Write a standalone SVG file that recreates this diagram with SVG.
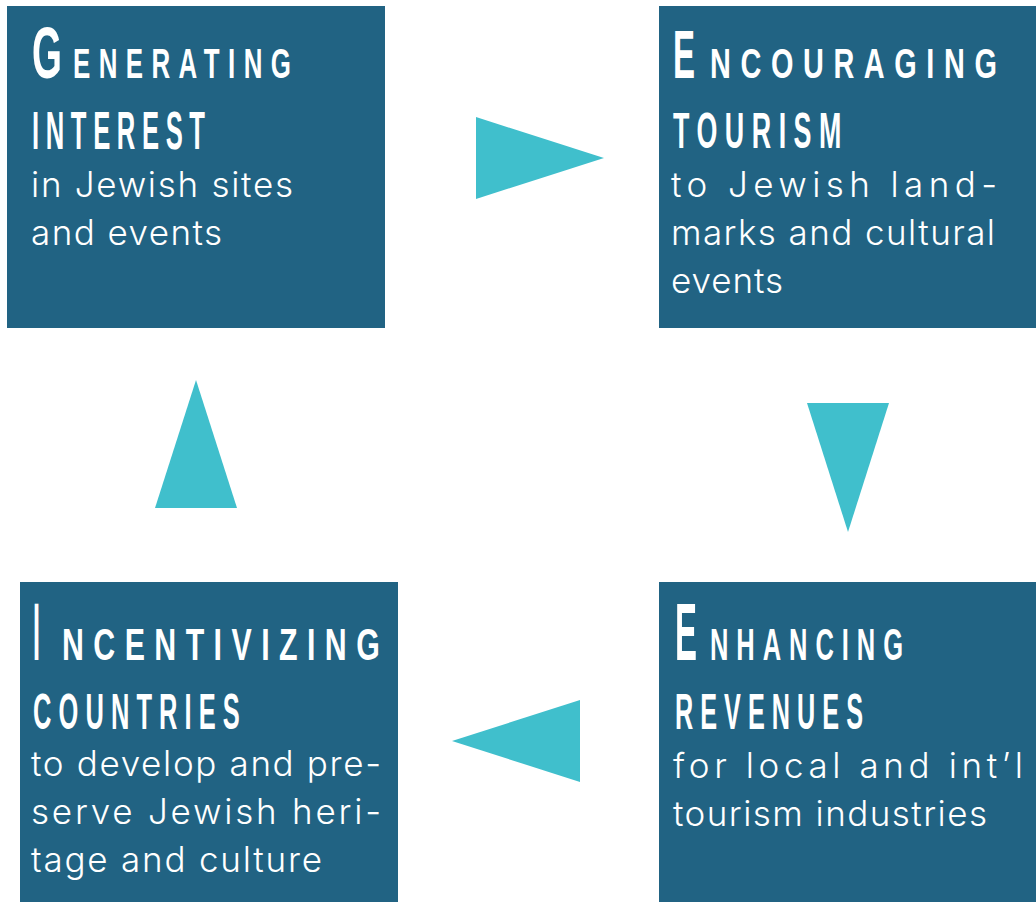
<svg xmlns="http://www.w3.org/2000/svg" width="1036" height="902" viewBox="0 0 1036 902">
<style>
.box{fill:#216383}
.tri{fill:#40bfcc}
.cap{font-family:"Liberation Sans",Arial,sans-serif;font-weight:bold;fill:#fff}
.sp{letter-spacing:14px}
.body{font-family:Inter,"Noto Sans","Liberation Sans",sans-serif;font-weight:300;font-size:35px;fill:#fff}
</style>
<rect width="1036" height="902" fill="#fff"/>
<g id="connectors">
<polygon class="tri" points="476,117 604,158 476,199"/>
<polygon class="tri" points="807,403 889,403 848,532"/>
<polygon class="tri" points="580,700 580,782 452,741"/>
<polygon class="tri" points="155,508 237,508 196,380"/>
</g>
<g id="node-generating">
<rect class="box" x="7" y="6" width="378" height="322"/>
<text class="cap" transform="translate(32,78) scale(0.528,1)" font-size="73">G</text>
<text class="cap sp" transform="translate(73,78) scale(0.602,1)" font-size="43">ENERATING</text>
<text class="cap sp" transform="translate(32,149) scale(0.474,1)" font-size="54">INTEREST</text>
<text class="body" x="31" y="197" textLength="262" lengthAdjust="spacing">in Jewish sites</text>
<text class="body" x="31" y="245" textLength="191" lengthAdjust="spacing">and events</text>
</g>
<g id="node-encouraging">
<rect class="box" x="659" y="6" width="377" height="322"/>
<text class="cap" transform="translate(673,78) scale(0.485,1)" font-size="68">E</text>
<text class="cap sp" transform="translate(710,78) scale(0.687,1)" font-size="42">NCOURAGING</text>
<text class="cap sp" transform="translate(673,148) scale(0.537,1)" font-size="50">TOURISM</text>
<text class="body" x="671" y="197" textLength="326" lengthAdjust="spacing">to Jewish land-</text>
<text class="body" x="671" y="245" textLength="324" lengthAdjust="spacing">marks and cultural</text>
<text class="body" x="671" y="293" textLength="112" lengthAdjust="spacing">events</text>
</g>
<g id="node-enhancing">
<rect class="box" x="659" y="582" width="377" height="320"/>
<text class="cap" transform="translate(675,660) scale(0.407,1)" font-size="81">E</text>
<text class="cap sp" transform="translate(710,660) scale(0.567,1)" font-size="45">NHANCING</text>
<text class="cap sp" transform="translate(675,729) scale(0.504,1)" font-size="50">REVENUES</text>
<text class="body" x="673" y="778" textLength="350" lengthAdjust="spacing">for local and int’l</text>
<text class="body" x="673" y="826" textLength="314" lengthAdjust="spacing">tourism industries</text>
</g>
<g id="node-incentivizing">
<rect class="box" x="20" y="582" width="378" height="320"/>
<text class="cap" transform="translate(33,660) scale(0.31,1)" font-size="81">I</text>
<text class="cap sp" transform="translate(62,660) scale(0.674,1)" font-size="45">NCENTIVIZING</text>
<text class="cap sp" transform="translate(33,729) scale(0.509,1)" font-size="50">COUNTRIES</text>
<text class="body" x="31" y="776" textLength="350" lengthAdjust="spacing">to develop and pre-</text>
<text class="body" x="31" y="824" textLength="350" lengthAdjust="spacing">serve Jewish heri-</text>
<text class="body" x="31" y="872" textLength="291" lengthAdjust="spacing">tage and culture</text>
</g>
</svg>
